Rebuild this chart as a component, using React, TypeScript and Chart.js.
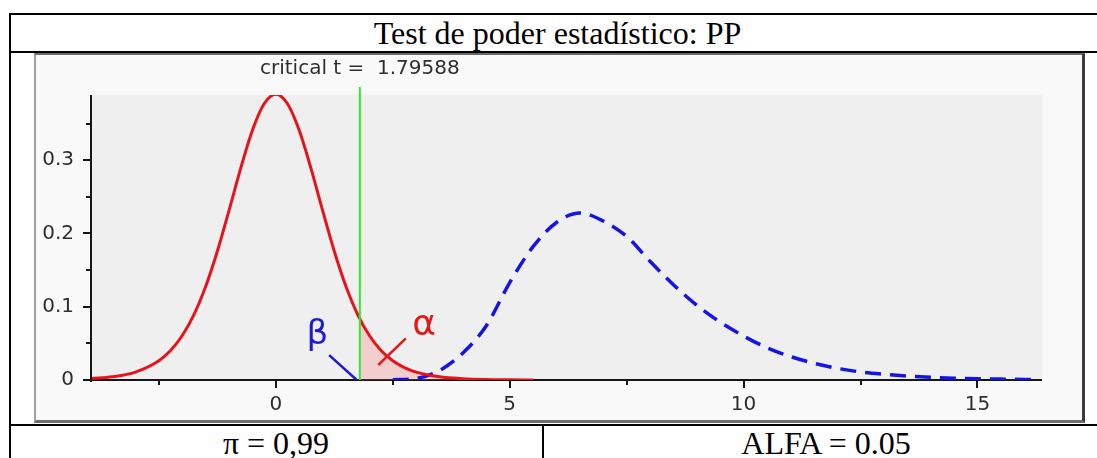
import React, { useEffect, useRef } from 'react';
import { Chart, registerables } from 'chart.js';

Chart.register(...registerables);

// ---------- text ----------
const titleText = 'Test de poder estadístico: PP';
const powerText = 'π = 0,99';
const alphaText = 'ALFA = 0.05';
const criticalT = 1.79588;
const criticalText = 'critical t =  1.79588';
const betaSymbol = 'β';
const alphaSymbol = 'α';

// ---------- axes ----------
const xMin = -3.93;
const xMax = 16.38;
const yMin = 0;
const yMax = 0.389;
const xTickValues = [-2.5, 0, 2.5, 5, 7.5, 10, 12.5, 15];
const xTickLabels = ['', '0', '', '5', '', '10', '', '15'];
const yTickValues = [0, 0.05, 0.1, 0.15, 0.2, 0.25, 0.3, 0.35];
const yTickLabels = ['0', '', '0.1', '', '0.2', '', '0.3', ''];

// ---------- series ----------
// null distribution (red, solid)
const redX = [-3.93, -3.5, -3, -2.5, -2.25, -2, -1.75, -1.5, -1.25, -1, -0.75, -0.5, -0.25, 0, 0.25, 0.5, 0.75, 1, 1.25, 1.5, 1.75, 2, 2.25, 2.5, 2.75, 3, 3.5, 4, 4.5, 5, 5.5];
const redY = [0.002, 0.0044, 0.0108, 0.0262, 0.0402, 0.0607, 0.0893, 0.1277, 0.1758, 0.2314, 0.2891, 0.3408, 0.377, 0.39, 0.377, 0.3408, 0.2891, 0.2314, 0.1758, 0.1277, 0.0893, 0.0607, 0.0402, 0.0262, 0.0169, 0.0108, 0.0044, 0.0018, 0.0007, 0.0003, 0.0001];

// alpha region (pink fill under red, right of critical t)
const alphaX = [1.79588, 2, 2.25, 2.5, 2.75, 3, 3.5, 4, 4.5, 5, 5.5];
const alphaY = [0.0834, 0.0607, 0.0402, 0.0262, 0.0169, 0.0108, 0.0044, 0.0018, 0.0007, 0.0003, 0.0001];

// alternative distribution (blue, dashed)
const blueX = [2.5, 3, 3.5, 4, 4.5, 5, 5.5, 6, 6.5, 7, 7.5, 8, 8.5, 9, 9.5, 10, 10.5, 11, 11.5, 12, 12.5, 13, 13.5, 14, 14.5, 15, 15.5, 16, 16.3];
const blueY = [0.0003, 0.002, 0.013, 0.037, 0.074, 0.133, 0.182, 0.215, 0.228, 0.217, 0.196, 0.162, 0.13, 0.102, 0.079, 0.06, 0.044, 0.032, 0.023, 0.016, 0.011, 0.0078, 0.0053, 0.0036, 0.0025, 0.0017, 0.0012, 0.0008, 0.0006];

// critical line
const criticalLineY = [0, 0.4];

// annotation leader lines
const betaLineX = [1.14, 1.73];
const betaLineY = [0.034, 0];
const alphaLineX = [2.19, 2.78];
const alphaLineY = [0.0205, 0.0569];
// annotation symbol anchors (x, y in data units, baseline)
const betaTextAt = [0.89, 0.049];
const alphaTextAt = [3.17, 0.0614];

const pts = (xs: number[], ys: number[]) => xs.map((x, i) => ({ x, y: ys[i] }));

const decorPlugin = {
  id: 'decor',
  beforeDraw(chart: any) {
    const { ctx, chartArea: a } = chart;
    ctx.save();
    ctx.fillStyle = '#efefef';
    ctx.fillRect(a.left, a.top, a.right - a.left, a.bottom - a.top);
    ctx.restore();
  },
  beforeDatasetsDraw(chart: any) {
    const { ctx, chartArea: a } = chart;
    const xs = chart.scales.x;
    const ys = chart.scales.y;
    ctx.save();
    ctx.strokeStyle = '#161616';
    ctx.lineWidth = 2;
    ctx.beginPath();
    ctx.moveTo(a.left - 1, a.top);
    ctx.lineTo(a.left - 1, a.bottom + 2);
    ctx.moveTo(a.left - 7, a.bottom);
    ctx.lineTo(a.right, a.bottom);
    yTickValues.forEach((v, i) => {
      const p = Math.round(ys.getPixelForValue(v));
      const len = yTickLabels[i] ? 8 : 5;
      ctx.moveTo(a.left - 1 - len, p);
      ctx.lineTo(a.left - 1, p);
    });
    xTickValues.forEach((v, i) => {
      const p = Math.round(xs.getPixelForValue(v));
      const len = xTickLabels[i] ? 8 : 5;
      ctx.moveTo(p, a.bottom);
      ctx.lineTo(p, a.bottom + len);
    });
    ctx.stroke();
    ctx.restore();
  },
  afterDatasetsDraw(chart: any) {
    const { ctx } = chart;
    const xs = chart.scales.x;
    const ys = chart.scales.y;
    ctx.save();
    ctx.textAlign = 'center';
    ctx.textBaseline = 'alphabetic';
    ctx.fillStyle = '#2e2e2e';
    ctx.font = '20px "DejaVu Sans", sans-serif';
    ctx.fillText(criticalText, xs.getPixelForValue(criticalT), 19);
    ctx.font = '34px "DejaVu Sans", sans-serif';
    ctx.fillStyle = '#1a1ad8';
    ctx.fillText(betaSymbol, xs.getPixelForValue(betaTextAt[0]), ys.getPixelForValue(betaTextAt[1]));
    ctx.font = '36px "DejaVu Sans", sans-serif';
    ctx.fillStyle = '#e21a1a';
    ctx.fillText(alphaSymbol, xs.getPixelForValue(alphaTextAt[0]), ys.getPixelForValue(alphaTextAt[1]));
    ctx.restore();
  },
};

function ChartCanvas() {
  const ref = useRef<HTMLCanvasElement | null>(null);
  useEffect(() => {
    if (!ref.current) return;
    const tickFontY = { family: '"DejaVu Sans", sans-serif', size: 20 };
    const tickFontX = { family: '"DejaVu Sans", sans-serif', size: 20 };
    const chart = new Chart(ref.current, {
      type: 'line',
      data: {
        datasets: [
          {
            label: 'critical',
            data: pts([criticalT, criticalT], criticalLineY),
            borderColor: '#33e633',
            borderWidth: 2,
            pointRadius: 0,
            clip: false,
            fill: false,
          } as any,
          {
            label: 'beta line',
            data: pts(betaLineX, betaLineY),
            borderColor: '#1a1acc',
            borderWidth: 2.5,
            pointRadius: 0,
            fill: false,
          },
          {
            label: 'alpha line',
            data: pts(alphaLineX, alphaLineY),
            borderColor: '#e21a1a',
            borderWidth: 2.5,
            pointRadius: 0,
            fill: false,
          },
          {
            label: 'H0',
            data: pts(redX, redY),
            borderColor: '#e6141a',
            borderWidth: 3,
            pointRadius: 0,
            cubicInterpolationMode: 'monotone',
            fill: false,
          },
          {
            label: 'H1',
            data: pts(blueX, blueY),
            borderColor: '#1414e6',
            borderWidth: 3.5,
            borderDash: [16, 9],
            pointRadius: 0,
            cubicInterpolationMode: 'monotone',
            fill: false,
          },
          {
            label: 'alpha',
            data: pts(alphaX, alphaY),
            borderWidth: 0,
            borderColor: 'rgba(0,0,0,0)',
            backgroundColor: 'rgba(255, 100, 100, 0.24)',
            pointRadius: 0,
            cubicInterpolationMode: 'monotone',
            fill: 'origin',
          },
        ],
      },
      options: {
        animation: false,
        responsive: false,
        devicePixelRatio: 1,
        layout: { padding: { top: 40, right: 40, left: 0, bottom: 0 } },
        plugins: {
          legend: { display: false },
          tooltip: { enabled: false },
        },
        scales: {
          x: {
            type: 'linear',
            min: xMin,
            max: xMax,
            afterBuildTicks: (s: any) => {
              s.ticks = xTickValues.map((v) => ({ value: v }));
            },
            afterFit: (s: any) => {
              s.height = 40;
            },
            grid: { display: false, drawTicks: true, tickLength: 8 },
            border: { display: false },
            ticks: {
              autoSkip: false,
              maxRotation: 0,
              padding: 5,
              color: '#2e2e2e',
              font: tickFontX,
              callback: (_v: any, i: number) => xTickLabels[i],
            },
          },
          y: {
            type: 'linear',
            min: yMin,
            max: yMax,
            afterBuildTicks: (s: any) => {
              s.ticks = yTickValues.map((v) => ({ value: v }));
            },
            afterFit: (s: any) => {
              s.width = 56;
            },
            grid: { display: false, drawTicks: true, tickLength: 8 },
            border: { display: false },
            ticks: {
              autoSkip: false,
              padding: 10,
              color: '#2e2e2e',
              font: tickFontY,
              callback: (_v: any, i: number) => yTickLabels[i],
            },
          },
        },
      },
      plugins: [decorPlugin],
    } as any);
    return () => chart.destroy();
  }, []);
  return <canvas ref={ref} width={1046} height={365} style={{ display: 'block', width: 1046, height: 365 }} />;
}

const line = (left: number, top: number, width: number, height: number) => (
  <div style={{ position: 'absolute', left, top, width, height, background: '#000' }} />
);

const serif = '"Liberation Serif", "Times New Roman", Times, serif';

export default function App() {
  return (
    <div style={{ position: 'absolute', left: 0, top: 0, width: 1097, height: 458, overflow: 'hidden', background: '#fff' }}>
      {line(9, 13, 1088, 2)}
      {line(9, 51, 1088, 2)}
      {line(9, 13, 2, 445)}
      {line(9, 424, 1088, 2)}
      {line(542, 424, 2, 34)}
      <div style={{ position: 'absolute', left: 0, top: 17, width: 1115, textAlign: 'center', fontFamily: serif, fontSize: 32, lineHeight: '32px', color: '#000', whiteSpace: 'nowrap' }}>
        {titleText}
      </div>
      <div
        style={{
          position: 'absolute',
          left: 34,
          top: 53,
          width: 1051,
          height: 370,
          boxSizing: 'border-box',
          borderLeft: '2px solid #a0a0a0',
          borderTop: '2px solid #6a6a6a',
          borderRight: '3px solid #3c3c3c',
          borderBottom: '3px solid #6e6e6e',
          background: '#f9f9f9',
        }}
      >
        <ChartCanvas />
      </div>
      <div style={{ position: 'absolute', left: 10, top: 427, width: 532, textAlign: 'center', fontFamily: serif, fontSize: 32, lineHeight: '32px', color: '#000', whiteSpace: 'nowrap' }}>
        {powerText}
      </div>
      <div style={{ position: 'absolute', left: 544, top: 427, width: 564, textAlign: 'center', fontFamily: serif, fontSize: 32, lineHeight: '32px', color: '#000', whiteSpace: 'nowrap' }}>
        {alphaText}
      </div>
    </div>
  );
}
